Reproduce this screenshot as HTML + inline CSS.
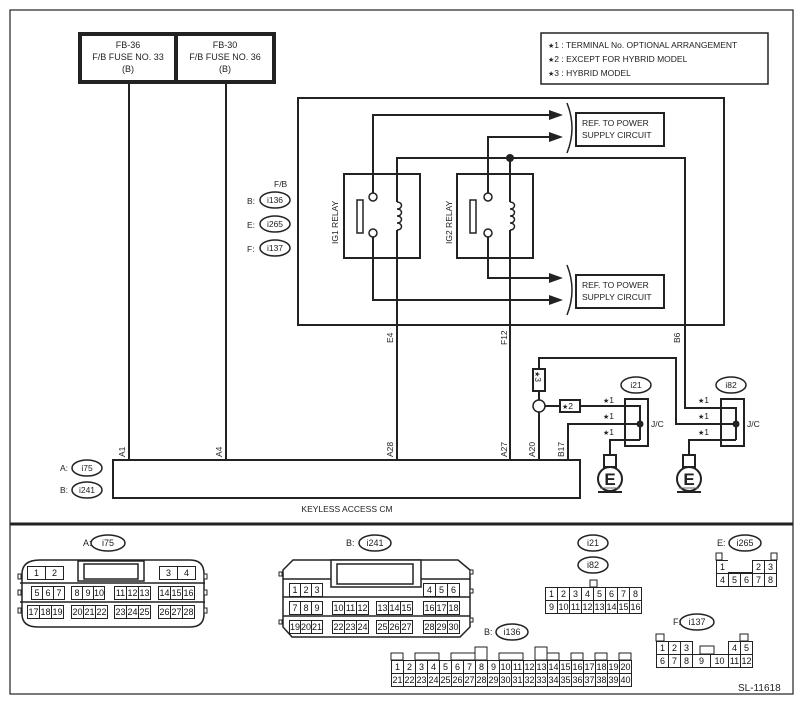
<!DOCTYPE html>
<html><head><meta charset="utf-8"><style>
body{margin:0;background:#fff}
#w{position:relative;width:803px;height:704px;overflow:hidden;font-family:"Liberation Sans",sans-serif;color:#111}
svg{position:absolute;left:0;top:0}
.g{position:absolute;display:flex;font-size:9px;line-height:12px}
.g b{font-weight:normal;display:block;border:1px solid #222;margin-left:-1px;text-align:center;background:#fff;height:12px}
.grid{position:absolute;display:grid;font-size:9px;line-height:12px}
.grid b{font-weight:normal;border:1px solid #222;margin:0 -1px -1px 0;text-align:center;height:12px;background:#fff}
.s{font-family:"DejaVu Sans",sans-serif;font-size:7px}
</style></head><body><div id="w">
<svg width="803" height="704" viewBox="0 0 803 704" font-family="Liberation Sans, sans-serif" fill="none" stroke="#222">
<rect x="10" y="10" width="783" height="684" stroke-width="1.2"/>
<line x1="10" y1="524" x2="793" y2="524" stroke-width="3"/>
<rect x="80" y="34" width="194" height="48" stroke-width="4"/>
<line x1="176" y1="34" x2="176" y2="82" stroke-width="4"/>
<g fill="#222" stroke="none" font-size="9" text-anchor="middle">
<text x="128" y="48">FB-36</text><text x="128" y="60">F/B FUSE NO. 33</text><text x="128" y="72">(B)</text>
<text x="225" y="48">FB-30</text><text x="225" y="60">F/B FUSE NO. 36</text><text x="225" y="72">(B)</text>
</g>
<g stroke-width="2">
<line x1="129" y1="84" x2="129" y2="460"/><line x1="226" y1="84" x2="226" y2="460"/>
</g>
<rect x="541" y="33" width="227" height="51" stroke-width="1.5"/>
<g fill="#222" stroke="none" font-size="8.5">
<text x="548" y="48"><tspan class="s">★</tspan>1 : TERMINAL No. OPTIONAL ARRANGEMENT</text>
<text x="548" y="62"><tspan class="s">★</tspan>2 : EXCEPT FOR HYBRID MODEL</text>
<text x="548" y="76"><tspan class="s">★</tspan>3 : HYBRID MODEL</text>
</g>
<rect x="298" y="98" width="426" height="227" stroke-width="2"/>
<rect x="344" y="174" width="76" height="84" stroke-width="2"/>
<rect x="457" y="174" width="76" height="84" stroke-width="2"/>
<rect x="357" y="200" width="6" height="33" stroke-width="1.5"/>
<rect x="470" y="200" width="6" height="33" stroke-width="1.5"/>
<g stroke-width="2">
<polyline points="373,193 373,115 552,115"/>
<polyline points="488,193 488,137 552,137"/>
<polyline points="373,237 373,300 552,300"/>
<polyline points="488,237 488,278 552,278"/>
<polyline points="397,460 397,230"/>
<polyline points="397,202 397,158 685,158 685,408 736,408 736,440"/>
<polyline points="510,460 510,230"/>
<polyline points="510,202 510,158"/>
</g>
<g stroke-width="1.5">
<circle cx="373" cy="197" r="4" fill="#fff"/><circle cx="373" cy="233" r="4" fill="#fff"/>
<circle cx="488" cy="197" r="4" fill="#fff"/><circle cx="488" cy="233" r="4" fill="#fff"/>
<path d="M397,202 c6,0 6,7 0,7 c6,0 6,7 0,7 c6,0 6,7 0,7 c6,0 6,7 0,7"/>
<path d="M510,202 c6,0 6,7 0,7 c6,0 6,7 0,7 c6,0 6,7 0,7 c6,0 6,7 0,7"/>
<path d="M567,103 q10,25 0,50"/><path d="M567,265 q10,25 0,50"/>
</g>
<circle cx="510" cy="158" r="4" fill="#222" stroke="none"/>
<g fill="#222" stroke="none">
<polygon points="549,110 563,115 549,120"/><polygon points="549,132 563,137 549,142"/>
<polygon points="549,273 563,278 549,283"/><polygon points="549,295 563,300 549,305"/>
</g>
<rect x="576" y="113" width="88" height="33" stroke-width="2"/>
<rect x="576" y="275" width="88" height="33" stroke-width="2"/>
<g fill="#222" stroke="none" font-size="8.5">
<text x="582" y="126">REF. TO POWER</text><text x="582" y="138">SUPPLY CIRCUIT</text>
<text x="582" y="288">REF. TO POWER</text><text x="582" y="300">SUPPLY CIRCUIT</text>
<text x="338" y="244" transform="rotate(-90 338 244)">IG1 RELAY</text>
<text x="452" y="244" transform="rotate(-90 452 244)">IG2 RELAY</text>
<text x="274" y="187">F/B</text>
<text x="247" y="204">B:</text><text x="247" y="228">E:</text><text x="247" y="252">F:</text>
</g>
<g stroke-width="1.5">
<ellipse cx="275" cy="200" rx="15" ry="8"/><ellipse cx="275" cy="224" rx="15" ry="8"/><ellipse cx="275" cy="248" rx="15" ry="8"/>
</g>
<g fill="#222" stroke="none" font-size="8.5" text-anchor="middle">
<text x="275" y="203">i136</text><text x="275" y="227">i265</text><text x="275" y="251">i137</text>
</g>
<g stroke-width="2">
<polyline points="539,460 539,410"/><polyline points="539,402 539,392"/>
<polyline points="539,370 539,358 676,358 676,424 736,424"/>
<polyline points="543,406 560,406"/><polyline points="580,406 640,406 640,440"/>
<polyline points="568,460 568,424 640,424"/>
<polyline points="610,455 610,440 640,440"/>
<polyline points="689,455 689,440 736,440"/>
</g>
<circle cx="539" cy="406" r="6" fill="#fff" stroke-width="1.5"/>
<rect x="533" y="369" width="12" height="22" stroke-width="2" fill="#fff"/>
<rect x="560" y="400" width="20" height="12" stroke-width="2" fill="#fff"/>
<rect x="625" y="399" width="23" height="47" stroke-width="2"/>
<rect x="721" y="399" width="23" height="47" stroke-width="2"/>
<circle cx="640" cy="424" r="3.5" fill="#222" stroke="none"/>
<circle cx="736" cy="424" r="3.5" fill="#222" stroke="none"/>
<g stroke-width="2">
<rect x="604" y="455" width="12" height="12"/><circle cx="610" cy="479" r="12"/><line x1="598" y1="492" x2="622" y2="492"/>
<rect x="683" y="455" width="12" height="12"/><circle cx="689" cy="479" r="12"/><line x1="677" y1="492" x2="701" y2="492"/>
</g>
<g stroke-width="1" stroke="#666"><line x1="600" y1="488" x2="620" y2="488"/><line x1="679" y1="488" x2="699" y2="488"/></g>
<g fill="#222" stroke="none" font-size="17" font-weight="bold" text-anchor="middle">
<text x="610" y="485">E</text><text x="689" y="485">E</text>
</g>
<g stroke-width="1.5"><ellipse cx="636" cy="385" rx="15" ry="8"/><ellipse cx="731" cy="385" rx="15" ry="8"/></g>
<g fill="#222" stroke="none" font-size="8.5">
<text x="636" y="388" text-anchor="middle">i21</text><text x="731" y="388" text-anchor="middle">i82</text>
<text x="651" y="427">J/C</text><text x="747" y="427">J/C</text>
<text x="603" y="403"><tspan class="s">★</tspan>1</text><text x="603" y="419"><tspan class="s">★</tspan>1</text><text x="603" y="435"><tspan class="s">★</tspan>1</text>
<text x="698" y="403"><tspan class="s">★</tspan>1</text><text x="698" y="419"><tspan class="s">★</tspan>1</text><text x="698" y="435"><tspan class="s">★</tspan>1</text>
<text x="562" y="409"><tspan class="s">★</tspan>2</text>
<text x="535" y="371" transform="rotate(90 535 371)"><tspan class="s">★</tspan>3</text>
<text x="393" y="343" transform="rotate(-90 393 343)">E4</text>
<text x="507" y="345" transform="rotate(-90 507 345)">F12</text>
<text x="680" y="343" transform="rotate(-90 680 343)">B6</text>
<text x="125" y="457" transform="rotate(-90 125 457)">A1</text>
<text x="222" y="457" transform="rotate(-90 222 457)">A4</text>
<text x="393" y="457" transform="rotate(-90 393 457)">A28</text>
<text x="507" y="457" transform="rotate(-90 507 457)">A27</text>
<text x="535" y="457" transform="rotate(-90 535 457)">A20</text>
<text x="564" y="457" transform="rotate(-90 564 457)">B17</text>
<text x="347" y="512" text-anchor="middle">KEYLESS ACCESS CM</text>
<text x="60" y="471">A:</text><text x="60" y="493">B:</text>
</g>
<rect x="113" y="460" width="467" height="38" stroke-width="2"/>
<g stroke-width="1.5"><ellipse cx="87" cy="468" rx="15" ry="8"/><ellipse cx="87" cy="490" rx="15" ry="8"/></g>
<g fill="#222" stroke="none" font-size="8.5" text-anchor="middle"><text x="87" y="471">i75</text><text x="87" y="493">i241</text></g>
<g stroke-width="1.5">
<ellipse cx="108" cy="543" rx="17" ry="8"/><ellipse cx="375" cy="543" rx="16" ry="8"/>
<ellipse cx="593" cy="543" rx="15" ry="8"/><ellipse cx="593" cy="565" rx="15" ry="8"/>
<ellipse cx="745" cy="543" rx="16" ry="8"/><ellipse cx="512" cy="632" rx="16" ry="8"/>
<ellipse cx="697" cy="622" rx="17" ry="8"/>
</g>
<g fill="#222" stroke="none" font-size="9">
<text x="83" y="546">A:</text><text x="108" y="546" text-anchor="middle">i75</text>
<text x="346" y="546">B:</text><text x="375" y="546" text-anchor="middle">i241</text>
<text x="593" y="546" text-anchor="middle">i21</text><text x="593" y="568" text-anchor="middle">i82</text>
<text x="717" y="546">E:</text><text x="745" y="546" text-anchor="middle">i265</text>
<text x="484" y="635">B:</text><text x="512" y="635" text-anchor="middle">i136</text>
<text x="673" y="625">F:</text><text x="697" y="625" text-anchor="middle">i137</text>
<text x="738" y="691" font-size="10">SL-11618</text>
</g>
<g stroke-width="1.5">
<path d="M22,574 q0,-14 18,-14 h150 q14,0 14,14 v40 q0,13 -14,13 h-152 q-16,0 -16,-13 z"/>
<line x1="20" y1="583" x2="205" y2="583"/><line x1="20" y1="602" x2="205" y2="602"/>
<rect x="78" y="561" width="66" height="20"/><rect x="84" y="564" width="54" height="15"/>
<path d="M283,570 l10,-10 h165 l12,10 v57 l-10,10 h-168 l-9,-10 z"/>
<line x1="283" y1="579" x2="470" y2="579"/><line x1="283" y1="597" x2="470" y2="597"/><line x1="283" y1="616" x2="470" y2="616"/>
<rect x="331" y="560" width="90" height="27" fill="#fff"/><rect x="337" y="564" width="76" height="20"/>
</g>
<g stroke-width="1" fill="#fff">
<rect x="18" y="574" width="3" height="5"/><rect x="204" y="574" width="3" height="5"/>
<rect x="18" y="590" width="3" height="5"/><rect x="204" y="590" width="3" height="5"/>
<rect x="18" y="608" width="3" height="5"/><rect x="204" y="608" width="3" height="5"/>
<rect x="279" y="572" width="3" height="4"/><rect x="470" y="570" width="3" height="4"/>
<rect x="470" y="589" width="3" height="4"/><rect x="470" y="618" width="3" height="4"/><rect x="279" y="620" width="3" height="4"/>
<rect x="590" y="580" width="7" height="7"/>
<rect x="716" y="553" width="6" height="7"/><rect x="771" y="553" width="6" height="7"/><rect x="734" y="568" width="12" height="7"/>
<rect x="656" y="634" width="8" height="7"/><rect x="740" y="634" width="8" height="7"/><rect x="700" y="646" width="14" height="8"/>
<rect x="391" y="653" width="12" height="7"/><rect x="415" y="653" width="24" height="7"/><rect x="451" y="653" width="24" height="7"/>
<rect x="475" y="647" width="12" height="13"/><rect x="499" y="653" width="24" height="7"/><rect x="535" y="647" width="12" height="13"/>
<rect x="547" y="653" width="12" height="7"/><rect x="571" y="653" width="12" height="7"/><rect x="595" y="653" width="12" height="7"/><rect x="619" y="653" width="12" height="7"/>
</g>
</svg>
<div class="g" style="left:28px;top:566px"><b style="width:17px">1</b><b style="width:17px">2</b></div>
<div class="g" style="left:160px;top:566px"><b style="width:17px">3</b><b style="width:17px">4</b></div>
<div class="g" style="left:32px;top:586px"><b style="width:10px">5</b><b style="width:10px">6</b><b style="width:10px">7</b></div>
<div class="g" style="left:72px;top:586px"><b style="width:10px">8</b><b style="width:10px">9</b><b style="width:10px">10</b></div>
<div class="g" style="left:115px;top:586px"><b style="width:11px">11</b><b style="width:11px">12</b><b style="width:11px">13</b></div>
<div class="g" style="left:159px;top:586px"><b style="width:11px">14</b><b style="width:11px">15</b><b style="width:11px">16</b></div>
<div class="g" style="left:28px;top:605px"><b style="width:11px">17</b><b style="width:11px">18</b><b style="width:11px">19</b></div>
<div class="g" style="left:72px;top:605px"><b style="width:11px">20</b><b style="width:11px">21</b><b style="width:11px">22</b></div>
<div class="g" style="left:115px;top:605px"><b style="width:11px">23</b><b style="width:11px">24</b><b style="width:11px">25</b></div>
<div class="g" style="left:159px;top:605px"><b style="width:11px">26</b><b style="width:11px">27</b><b style="width:11px">28</b></div>
<div class="g" style="left:290px;top:583px"><b style="width:10px">1</b><b style="width:10px">2</b><b style="width:10px">3</b></div>
<div class="g" style="left:424px;top:583px"><b style="width:11px">4</b><b style="width:11px">5</b><b style="width:11px">6</b></div>
<div class="g" style="left:290px;top:601px"><b style="width:10px">7</b><b style="width:10px">8</b><b style="width:10px">9</b></div>
<div class="g" style="left:333px;top:601px"><b style="width:11px">10</b><b style="width:11px">11</b><b style="width:11px">12</b></div>
<div class="g" style="left:377px;top:601px"><b style="width:11px">13</b><b style="width:11px">14</b><b style="width:11px">15</b></div>
<div class="g" style="left:424px;top:601px"><b style="width:11px">16</b><b style="width:11px">17</b><b style="width:11px">18</b></div>
<div class="g" style="left:290px;top:620px"><b style="width:10px">19</b><b style="width:10px">20</b><b style="width:10px">21</b></div>
<div class="g" style="left:333px;top:620px"><b style="width:11px">22</b><b style="width:11px">23</b><b style="width:11px">24</b></div>
<div class="g" style="left:377px;top:620px"><b style="width:11px">25</b><b style="width:11px">26</b><b style="width:11px">27</b></div>
<div class="g" style="left:424px;top:620px"><b style="width:11px">28</b><b style="width:11px">29</b><b style="width:11px">30</b></div>
<div class="grid" style="left:545px;top:587px;grid-template-columns:repeat(8,12px)"><b>1</b><b>2</b><b>3</b><b>4</b><b>5</b><b>6</b><b>7</b><b>8</b><b>9</b><b>10</b><b>11</b><b>12</b><b>13</b><b>14</b><b>15</b><b>16</b></div>
<div class="grid" style="left:716px;top:560px;grid-template-columns:repeat(5,12px)"><b>1</b><b style="border:none;border-bottom:1px solid #222"></b><b style="border:none;border-bottom:1px solid #222"></b><b>2</b><b>3</b><b>4</b><b>5</b><b>6</b><b>7</b><b>8</b></div>
<div class="grid" style="left:391px;top:660px;grid-template-columns:repeat(20,12px)"><b>1</b><b>2</b><b>3</b><b>4</b><b>5</b><b>6</b><b>7</b><b>8</b><b>9</b><b>10</b><b>11</b><b>12</b><b>13</b><b>14</b><b>15</b><b>16</b><b>17</b><b>18</b><b>19</b><b>20</b><b>21</b><b>22</b><b>23</b><b>24</b><b>25</b><b>26</b><b>27</b><b>28</b><b>29</b><b>30</b><b>31</b><b>32</b><b>33</b><b>34</b><b>35</b><b>36</b><b>37</b><b>38</b><b>39</b><b>40</b></div>
<div class="grid" style="left:656px;top:641px;grid-template-columns:repeat(3,12px)"><b>1</b><b>2</b><b>3</b><b>6</b><b>7</b><b>8</b></div>
<div class="grid" style="left:692px;top:654px;grid-template-columns:18px 18px;font-size:9px"><b>9</b><b>10</b></div>
<div class="grid" style="left:728px;top:641px;grid-template-columns:repeat(2,12px)"><b>4</b><b>5</b><b>11</b><b>12</b></div>
</div></body></html>
